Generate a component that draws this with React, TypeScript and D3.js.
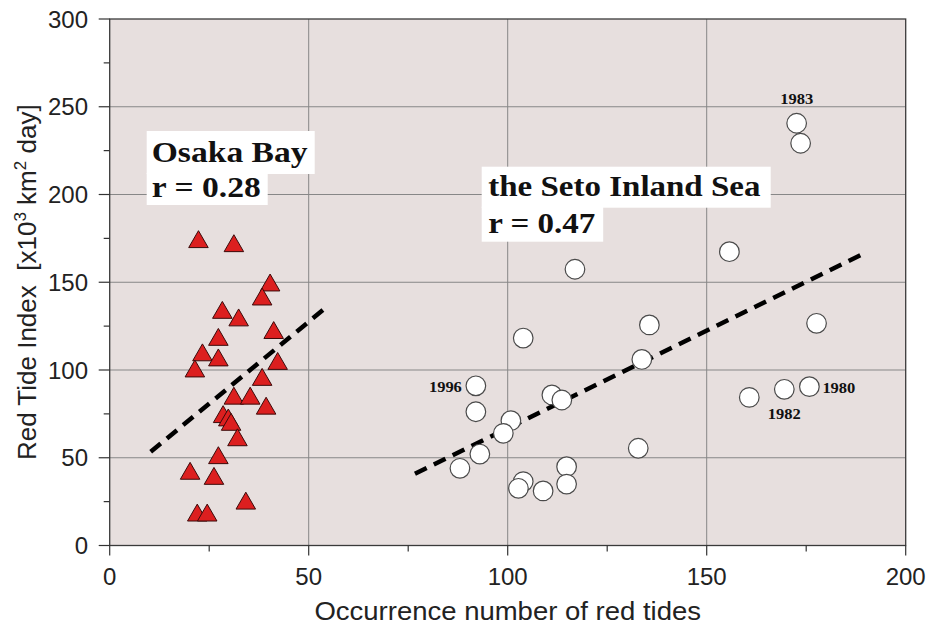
import React from 'react';
import * as d3 from 'd3';

// Osaka Bay (triangles)
const osakaX = [22.3, 31.2, 40.3, 38.3, 28.3, 32.4, 41.2, 27.3, 23.3, 27.3, 42.2, 21.4, 38.3, 31.2, 35.3, 39.3, 28.5, 29.8, 30.5, 32.1, 27.3, 20.2, 26.2, 34.2, 22.0, 24.5];
const osakaY = [174.1, 171.8, 149.4, 141.4, 133.8, 129.5, 122.3, 118.4, 109.6, 106.7, 104.7, 100.4, 95.6, 84.9, 84.9, 79.2, 74.4, 72.5, 70.0, 61.2, 51.0, 42.1, 39.2, 25.1, 18.3, 18.3];

// the Seto Inland Sea (circles)
const setoX = [116.9, 135.6, 103.9, 133.7, 92.0, 111.1, 113.6, 92.0, 100.8, 98.9, 132.8, 93.0, 88.0, 114.8, 103.9, 102.7, 108.9, 114.8, 172.6, 173.6, 155.7, 177.6, 160.7, 169.5, 175.8];
const setoY = [157.4, 125.7, 118.2, 106.0, 91.0, 85.8, 82.9, 76.2, 71.1, 63.9, 55.4, 52.1, 44.0, 44.9, 36.4, 32.6, 31.1, 35.0, 240.6, 229.2, 167.4, 126.6, 84.4, 89.0, 90.5];

// regression lines (end points)
const osakaFitX = [10.3, 53.6];
const osakaFitY = [53.4, 134.2];
const setoFitX = [76.7, 189.8];
const setoFitY = [40.9, 166.7];

// year annotations
const yearLabels = ['1983', '1996', '1982', '1980'];
const yearX = [172.6, 92.0, 169.5, 175.8];
const yearY = [240.6, 91.0, 89.0, 90.5];

const xTicks = [0, 50, 100, 150, 200];
const yTicks = [0, 50, 100, 150, 200, 250, 300];
const xMinor = [25, 75, 125, 175];
const yMinor = [25, 75, 125, 175, 225, 275];

const W = 926;
const H = 626;
const left = 109.7;
const right = 905.7;
const top = 19;
const bottom = 545.5;

export default function App() {
  const x = d3.scaleLinear().domain([0, 200]).range([left, right]);
  const y = d3.scaleLinear().domain([0, 300]).range([bottom, top]);
  const tri = d3.symbol(d3.symbolTriangle, 165)() as string;
  const fitLine = d3.line<[number, number]>().x((d) => x(d[0])).y((d) => y(d[1]));

  const sans = '"Liberation Sans", Arial, Helvetica, sans-serif';
  const serif = '"Liberation Serif", "Times New Roman", serif';

  // offsets for the year labels relative to their point
  const yearDx = [0, -14, 0, 13];
  const yearDy = [-19, 6, 30, 6];
  const yearAnchor = ['middle', 'end', 'middle', 'start'];

  return (
    <svg width={W} height={H} style={{ position: 'absolute', left: 0, top: 0, background: '#fff' }}>
      <rect x={left} y={top} width={right - left} height={bottom - top} fill="#e7dfde" />

      {/* grid */}
      {xTicks.slice(1, -1).map((t) => (
        <line key={'gx' + t} x1={x(t)} x2={x(t)} y1={top} y2={bottom} stroke="#878787" strokeWidth={1} />
      ))}
      {yTicks.slice(1, -1).map((t) => (
        <line key={'gy' + t} x1={left} x2={right} y1={y(t)} y2={y(t)} stroke="#878787" strokeWidth={1} />
      ))}

      {/* label boxes */}
      <rect x={146.7} y={131} width={168} height={43} fill="#fff" />
      <rect x={146.7} y={173} width={121} height={32} fill="#fff" />
      <rect x={481.7} y={166.7} width={289} height={41} fill="#fff" />
      <rect x={481.7} y={206.7} width={121.5} height={35} fill="#fff" />

      {/* frame */}
      <rect x={left} y={top} width={right - left} height={bottom - top} fill="none" stroke="#3a3a3a" strokeWidth={1.3} />

      {/* y axis ticks */}
      {yTicks.map((t) => (
        <g key={'yt' + t}>
          <line x1={left - 11} x2={left} y1={y(t)} y2={y(t)} stroke="#333" strokeWidth={1.2} />
          <text x={88} y={y(t)} dy="0.36em" textAnchor="end" fontFamily={sans} fontSize={24} fill="#222">
            {t}
          </text>
        </g>
      ))}
      {yMinor.map((t) => (
        <line key={'ym' + t} x1={left - 6} x2={left} y1={y(t)} y2={y(t)} stroke="#333" strokeWidth={1.2} />
      ))}

      {/* x axis ticks */}
      {xTicks.map((t) => (
        <g key={'xt' + t}>
          <line x1={x(t)} x2={x(t)} y1={bottom} y2={bottom + 10} stroke="#333" strokeWidth={1.2} />
          <text x={x(t)} y={585} textAnchor="middle" fontFamily={sans} fontSize={24} fill="#222">
            {t}
          </text>
        </g>
      ))}
      {xMinor.map((t) => (
        <line key={'xm' + t} x1={x(t)} x2={x(t)} y1={bottom} y2={bottom + 6} stroke="#333" strokeWidth={1.2} />
      ))}

      {/* axis titles */}
      <text
        transform={`translate(${(left + right) / 2},620) scale(1.1,1)`}
        textAnchor="middle"
        fontFamily={sans}
        fontSize={25}
        fill="#222"
      >
        Occurrence number of red tides
      </text>
      <text
        transform={`translate(36,${(top + bottom) / 2}) rotate(-90)`}
        textAnchor="middle"
        fontFamily={sans}
        fontSize={26}
        fill="#222"
      >
        Red Tide Index {'\u00a0'}[x10
        <tspan dy={-10} fontSize={17}>3</tspan>
        <tspan dy={10}> km</tspan>
        <tspan dy={-10} fontSize={17}>2</tspan>
        <tspan dy={10}> day]</tspan>
      </text>

      {/* regression lines */}
      <path
        d={fitLine(osakaFitX.map((v, i) => [v, osakaFitY[i]]) as [number, number][]) as string}
        fill="none"
        stroke="#000"
        strokeWidth={4.5}
        strokeDasharray="13 8"
      />
      <path
        d={fitLine(setoFitX.map((v, i) => [v, setoFitY[i]]) as [number, number][]) as string}
        fill="none"
        stroke="#000"
        strokeWidth={4.5}
        strokeDasharray="13 8"
      />

      {/* Osaka Bay triangles */}
      {osakaX.map((v, i) => (
        <path
          key={'o' + i}
          d={tri}
          transform={`translate(${x(v)},${y(osakaY[i]) + 2})`}
          fill="#dc1f1f"
          stroke="#3b0a0a"
          strokeWidth={1}
        />
      ))}

      {/* Seto Inland Sea circles */}
      {setoX.map((v, i) => (
        <circle key={'s' + i} cx={x(v)} cy={y(setoY[i])} r={9.8} fill="#fff" stroke="#4a4a4a" strokeWidth={1.2} />
      ))}

      {/* year labels */}
      {yearLabels.map((lab, i) => (
        <text
          key={lab}
          transform={`translate(${x(yearX[i]) + yearDx[i]},${y(yearY[i]) + yearDy[i]}) scale(1.1,1)`}
          textAnchor={yearAnchor[i]}
          fontFamily={serif}
          fontWeight="bold"
          fontSize={15}
          fill="#111"
        >
          {lab}
        </text>
      ))}

      {/* region labels */}
      <g fontFamily={serif} fontWeight="bold" fontSize={30} fill="#111">
        <text transform="translate(151.7,162) scale(1.12,1)">Osaka Bay</text>
        <text transform="translate(151.7,197) scale(1.12,1)">r = 0.28</text>
        <text transform="translate(488.3,196) scale(1.1,1)">the Seto Inland Sea</text>
        <text transform="translate(488.3,232.5) scale(1.1,1)">r = 0.47</text>
      </g>
    </svg>
  );
}
